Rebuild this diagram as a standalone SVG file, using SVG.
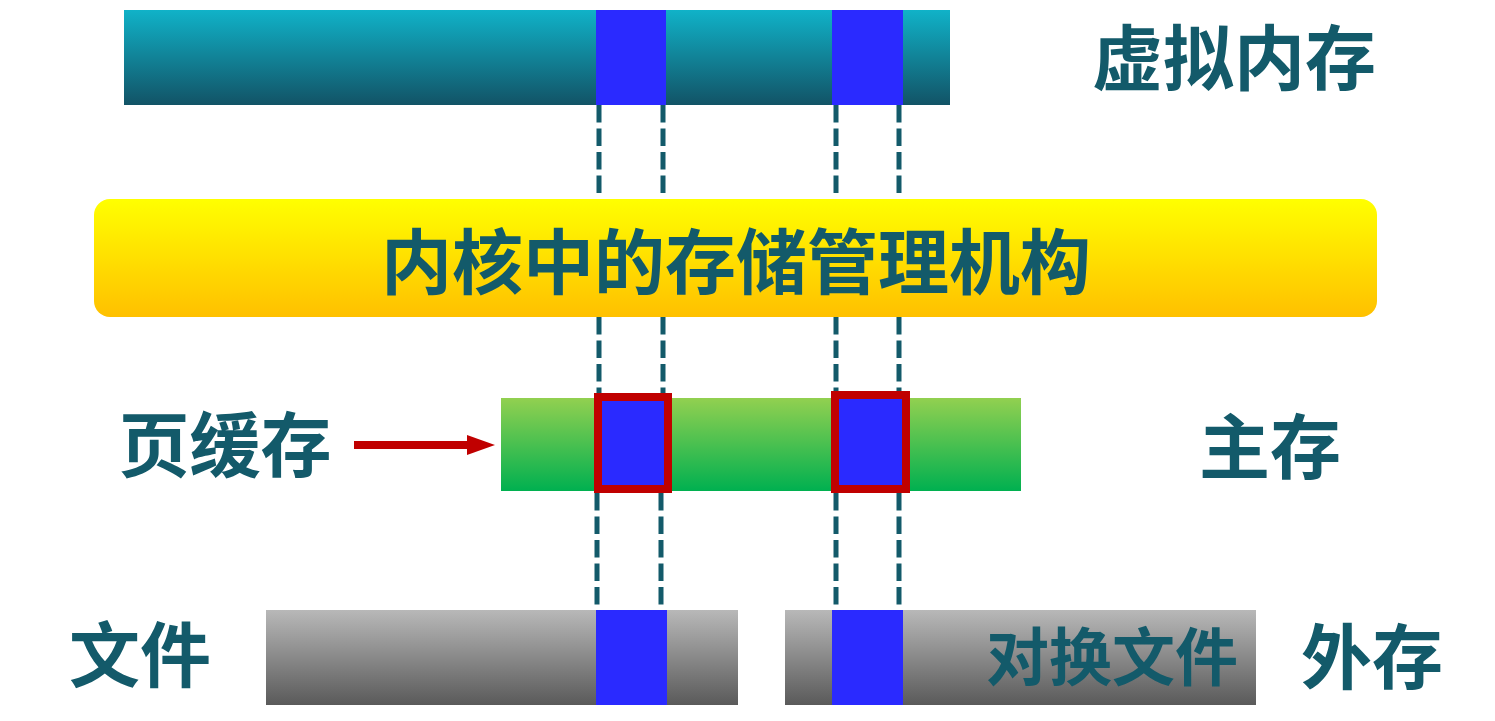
<svg xmlns="http://www.w3.org/2000/svg" width="1495" height="721" viewBox="0 0 1495 721">
<defs>
<linearGradient id="gTeal" x1="0" y1="0" x2="0" y2="1"><stop offset="0" stop-color="#10B2C8"/><stop offset="1" stop-color="#125366"/></linearGradient>
<linearGradient id="gYellow" x1="0" y1="0" x2="0" y2="1"><stop offset="0" stop-color="#FFFF00"/><stop offset="1" stop-color="#FFC000"/></linearGradient>
<linearGradient id="gGreen" x1="0" y1="0" x2="0" y2="1"><stop offset="0" stop-color="#92D050"/><stop offset="1" stop-color="#00B050"/></linearGradient>
<linearGradient id="gGray" x1="0" y1="0" x2="0" y2="1"><stop offset="0" stop-color="#B8B8B8"/><stop offset="1" stop-color="#5A5A5A"/></linearGradient>
<marker id="ah" markerWidth="28" markerHeight="20" refX="2" refY="10" orient="auto" markerUnits="userSpaceOnUse" viewBox="0 0 28 20"><path d="M0,0 L28,10 L0,20 Z" fill="#C00000"/></marker>
</defs>
<style>
.t{font-family:"Noto Sans CJK SC","Noto Sans",sans-serif;font-weight:bold;fill:#135A6A;text-anchor:middle;dominant-baseline:central}
.blk{fill:#2A2AFF}
.dash{stroke:#135A6A;stroke-width:5;stroke-dasharray:17.5 6;fill:none}
.red{fill:#2A2AFF;stroke:#C00000;stroke-width:8}
</style>
<g id="connectors">
<path class="dash" d="M599,105V200 M663,105V200 M836,105V200 M899,105V200"/>
<path class="dash" d="M599,317V393 M663,317V393 M836,317V391 M899,317V391"/>
<path class="dash" d="M597,493V610 M661,493V610 M836,493V610 M899,493V610"/>
<path d="M354,445H469" stroke="#C00000" stroke-width="8" fill="none" marker-end="url(#ah)"/>
</g>
<g id="virtual-memory">
<rect x="124" y="10" width="826" height="95" fill="url(#gTeal)"/>
<rect class="blk" x="596" y="10" width="70" height="95"/>
<rect class="blk" x="832" y="10" width="71" height="95"/>
<text class="t" x="1234" y="53" font-size="71">虚拟内存</text>
</g>
<g id="kernel">
<rect x="94" y="199" width="1283" height="118" rx="16" fill="url(#gYellow)"/>
<text class="t" x="736" y="257" font-size="71">内核中的存储管理机构</text>
</g>
<g id="main-memory">
<rect x="501" y="398" width="520" height="93" fill="url(#gGreen)"/>
<rect class="red" x="598" y="397" width="70" height="92"/>
<rect class="red" x="835" y="395" width="71" height="94"/>
<text class="t" x="1270" y="442" font-size="71">主存</text>
</g>
<g id="page-cache">
<text class="t" x="225" y="440" font-size="71">页缓存</text>
</g>
<g id="file">
<rect x="266" y="610" width="472" height="95" fill="url(#gGray)"/>
<rect class="blk" x="596" y="610" width="71" height="95"/>
<text class="t" x="140" y="650" font-size="71">文件</text>
</g>
<g id="swap-file">
<rect x="785" y="610" width="471" height="95" fill="url(#gGray)"/>
<rect class="blk" x="832" y="610" width="71" height="95"/>
<text class="t" x="1112" y="652" font-size="63">对换文件</text>
</g>
<g id="external-storage">
<text class="t" x="1372" y="652" font-size="71">外存</text>
</g>
</svg>
